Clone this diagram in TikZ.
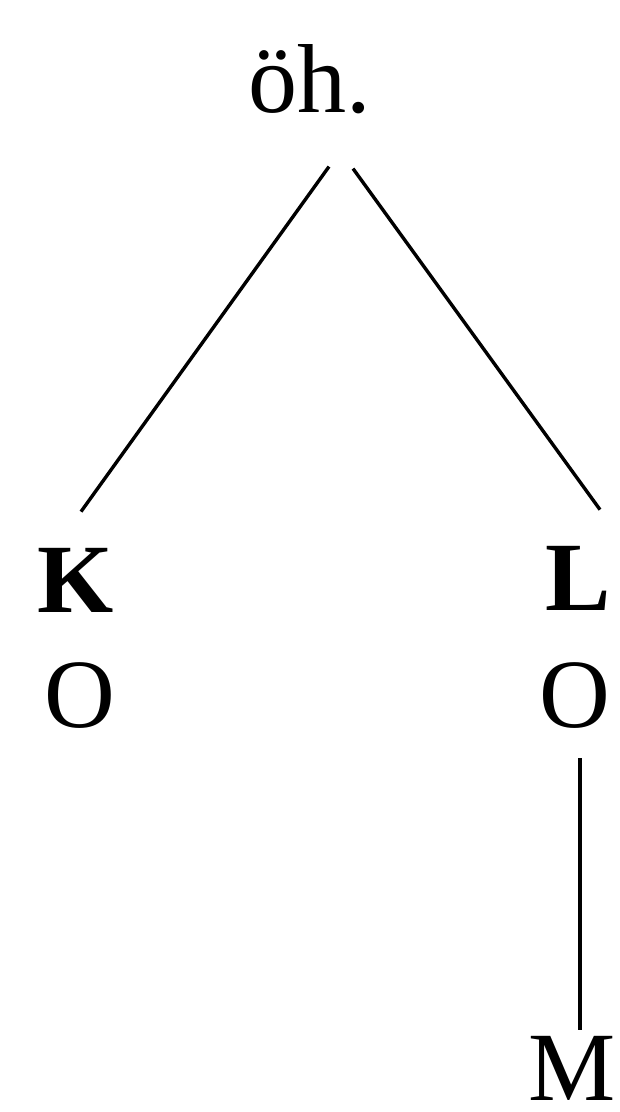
\documentclass[tikz,border=0pt]{standalone}
\usepackage{fontspec}
\setmainfont{Liberation Serif}
\usepackage{tikz}
\usetikzlibrary{positioning}

\begin{document}
\begin{tikzpicture}[x=1pt,y={(0,-1pt)},
    lbl/.style={inner sep=0pt,anchor=base,font=\fontsize{98}{100}\selectfont},
    branch/.style={line width=3.4pt}]
    \useasboundingbox (0,0) rectangle (620,1112);
    \node[lbl] (oh) at (310,112) {öh.};
    \node[lbl] (kb) at (76,612) {\textbf{K}};
    \node[lbl] (ko) at (80,727) {O};
    \node[lbl] (lb) at (578,610) {\textbf{L}};
    \node[lbl] (lo) at (575,727) {O};
    \node[lbl] (m) at (572,1100) {M};
    \draw[branch] ([shift={(19,53)}]oh.south) -- ([shift={(5,-36)}]kb.north);
    \draw[branch] ([shift={(43,55)}]oh.south) -- ([shift={(22,-36)}]lb.north);
    \draw[branch] ([shift={(5,30)}]lo.south) -- ([shift={(8,-6)}]m.north);
\end{tikzpicture}
\end{document}
